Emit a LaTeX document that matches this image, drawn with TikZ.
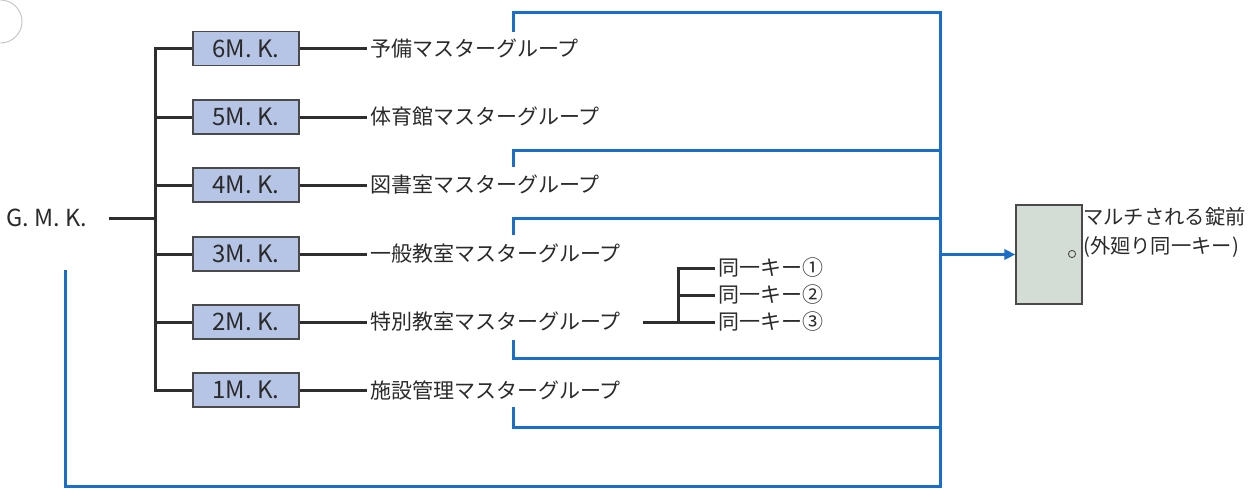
\documentclass[tikz,border=0pt]{standalone}
\usepackage{fontspec}
\setmainfont{Noto Sans CJK JP}
\usetikzlibrary{arrows.meta}
\definecolor{boxfill}{HTML}{B6C5E5}
\definecolor{boxline}{HTML}{4A4A4A}
\definecolor{linkblue}{HTML}{1A6EC8}
\definecolor{treeblack}{HTML}{2E2E2E}
\definecolor{txt}{HTML}{2A2A2A}
\definecolor{doorfill}{HTML}{D4DCD6}
\begin{document}
\begin{tikzpicture}[x=1pt,y=-1pt,
  mkbox/.style={draw=boxline, fill=boxfill, line width=1.2pt, minimum width=106pt,
    minimum height=34pt, inner sep=0pt, font=\fontsize{24}{28}\selectfont, text=txt},
  grp/.style={anchor=west, inner xsep=3pt, inner ysep=0pt, font=\fontsize{21}{24}\selectfont, text=txt},
  tree/.style={draw=treeblack, line width=3pt},
  bus/.style={draw=linkblue, line width=3pt},
  door/.style={draw=boxline, fill=doorfill, line width=1.1pt, minimum width=66pt, minimum height=99pt, inner sep=0pt}
]
\useasboundingbox (0,0) rectangle (1255,488);
% scan mark at top left
\draw[black!22, line width=1pt] (0.5,0) arc(-90:90:21.5);

% G.M.K.
\node[anchor=west, inner sep=0pt, font=\fontsize{23.5}{28}\selectfont, text=txt] (gmk) at (6,218) {G. M. K.};
\coordinate (trunk) at (155,218);

% master key boxes
\node[mkbox] (mk6) at (246,48.5) {6M. K.};
\node[mkbox] (mk5) at (246,117) {5M. K.};
\node[mkbox] (mk4) at (246,185) {4M. K.};
\node[mkbox] (mk3) at (246,254) {3M. K.};
\node[mkbox] (mk2) at (246,322) {2M. K.};
\node[mkbox] (mk1) at (246,390) {1M. K.};

% group labels
\node[grp] (lbl6) at (367,48.5) {予備マスターグループ};
\node[grp] (lbl5) at (367,117) {体育館マスターグループ};
\node[grp] (lbl4) at (367,185) {図書室マスターグループ};
\node[grp] (lbl3) at (367,254) {一般教室マスターグループ};
\node[grp] (lbl2) at (367,322) {特別教室マスターグループ};
\node[grp] (lbl1) at (367,390) {施設管理マスターグループ};

% same key labels
\node[grp] (sk1) at (715,268) {同一キー①};
\node[grp] (sk2) at (715,295) {同一キー②};
\node[grp] (sk3) at (715,322) {同一キー③};

% door
\node[door] (door) at (1049,254.5) {};
\draw[boxline, line width=0.9pt] (1072,254) circle (3.6);
\node[anchor=west, inner sep=0pt, align=left, font=\fontsize{20.3}{29}\selectfont, text=txt] (doortxt) at (1083,232.5)
  {マルチされる錠前\\(外廻り同一キー)};

% black tree
\draw[tree] ([xshift=22pt]gmk.east) -- (trunk);
\draw[tree] (mk6.west) -| (trunk);
\draw[tree] (mk1.west) -| (trunk);
\draw[tree] (mk5.west) -- (mk5.west -| trunk);
\draw[tree] (mk4.west) -- (mk4.west -| trunk);
\draw[tree] (mk3.west) -- (mk3.west -| trunk);
\draw[tree] (mk2.west) -- (mk2.west -| trunk);
\foreach \i in {1,...,6} {\draw[tree] (mk\i.east) -- (lbl\i.west);}

% same-key branch
\coordinate (sk0) at (643,322);
\coordinate (skj) at (678,322);
\draw[tree] (sk0) -- (sk3.west);
\draw[tree] (skj) |- (sk1.west);
\draw[tree] (skj |- sk2.west) -- (sk2.west);

% blue bus
\coordinate (bt) at (940,12);
\coordinate (bb) at (940,486);
\coordinate (lt) at (65,270);
\coordinate (g6) at (513,32);
\coordinate (g4) at (513,167);
\coordinate (g3) at (513,235);
\coordinate (g2) at (513,340);
\coordinate (g1) at (513,407);
\coordinate (j4) at (940,150);
\coordinate (j3) at (940,218);
\coordinate (j2) at (940,358);
\coordinate (j1) at (940,427);
\draw[bus, line join=miter] (g6) |- (bt) -- (bb) -| (lt);
\draw[bus] (g4) |- (j4);
\draw[bus] (g3) |- (j3);
\draw[bus] (g2) |- (j2);
\draw[bus] (g1) |- (j1);
\draw[bus, -{Triangle[length=11pt,width=10pt]}] (door.west -| bt) -- (door.west);
\end{tikzpicture}
\end{document}
